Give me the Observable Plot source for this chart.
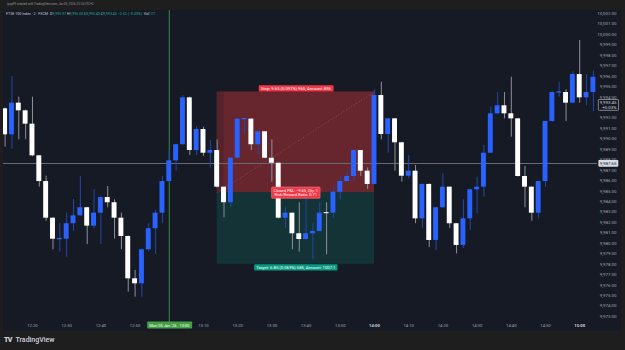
<!DOCTYPE html>
<html><head><meta charset="utf-8">
<script src="https://cdn.jsdelivr.net/npm/d3@7"></script>
<script src="https://cdn.jsdelivr.net/npm/@observablehq/plot@0.6"></script>
<style>
body{margin:0;background:#1e1e1e;}
#wrap{position:relative;width:625px;height:350px;background:#1e1e1e;overflow:hidden;font-family:Roboto,"Liberation Sans",sans-serif;}
#top{position:absolute;left:7px;top:1.8px;font-size:3px;color:#9598a1;white-space:nowrap;}
#chart{position:absolute;left:3px;top:10px;}
#legend{position:absolute;left:6px;top:11.6px;font-size:3.6px;color:#c9ccd4;white-space:nowrap;}
#legend .v{color:#22ab94}
#footer{position:absolute;left:4px;top:335.5px;font-size:7px;color:#d1d4dc;font-weight:500;white-space:nowrap;}
#footer b{font-weight:900;letter-spacing:-0.6px;margin-right:2px;}
</style></head>
<body>
<div id="wrap">
  <div id="top">ipop99 created with TradingView.com, Jan 05, 2026 23:14 UTC+2</div>
  <div id="chart"></div>
  <div id="legend">FTSE 100 Index · 2 · FXCM &nbsp;O<span class="v">9,995.97</span> H<span class="v">9,996.00</span> L<span class="v">9,993.40</span> C<span class="v">9,993.45</span> <span class="v">−2.52 (−0.03%)</span> &nbsp;Vol<span class="v">127</span></div>
  <div id="footer"><b>TV</b> TradingView</div>
</div>
<script>
// ---- data (2-minute candles, FTSE 100 Index) ----
const startTime = "12:12";
const intervalMinutes = 2;
const opens = [9992.88,9990.39,9993.42,9992.69,9991.41,9988.38,9985.92,9982.41,9980.40,9980.40,
9981.88,9982.64,9983.41,9981.65,9982.89,9984.39,9983.89,9982.41,9980.66,9976.61,
9976.13,9979.39,9981.40,9982.89,9985.92,9987.90,9989.44,9993.93,9988.89,9990.90,
9988.63,9988.89,9985.38,9983.89,9988.15,9991.89,9991.89,9989.44,9990.68,9988.15,
9987.67,9982.41,9982.89,9980.92,9980.37,9980.92,9981.14,9982.89,9982.89,9984.90,
9985.92,9986.40,9988.89,9986.91,9985.64,9994.15,9990.42,9991.92,9989.63,9986.43,
9986.91,9982.35,9985.64,9980.28,9983.41,9985.38,9981.88,9979.80,9982.35,9985.13,
9985.38,9988.63,9992.40,9993.17,9992.40,9991.92,9986.40,9985.38,9982.89,9985.92,
9991.67,9994.44,9994.44,9993.42,9996.16,9993.93,9994.44,9995.97];
const highs = [9992.95,9995.97,9993.99,9992.75,9993.99,9988.40,9986.43,9982.45,9981.90,9982.89,
9984.20,9986.40,9983.45,9985.13,9984.42,9985.44,9984.17,9982.89,9980.70,9977.41,
9979.45,9981.88,9983.15,9986.40,9988.89,9989.50,9994.15,9994.00,9991.19,9991.12,
9989.85,9989.91,9985.40,9988.20,9991.98,9991.92,9991.92,9990.70,9990.70,9989.91,
9987.70,9983.41,9982.90,9983.89,9984.39,9981.88,9983.89,9983.89,9985.38,9986.40,
9986.91,9988.90,9988.90,9987.23,9994.70,9995.43,9991.95,9991.95,9989.65,9988.41,
9987.45,9985.70,9985.70,9983.45,9986.66,9985.40,9981.90,9984.17,9985.15,9986.34,
9989.37,9993.03,9994.44,9994.44,9995.90,9991.95,9987.36,9985.40,9985.95,9991.70,
9994.50,9995.43,9994.70,9996.42,9999.42,9996.16,9996.50,9996.00];
const lows = [9989.21,9988.99,9989.91,9989.93,9988.30,9985.38,9982.12,9979.39,9979.16,9978.68,
9981.17,9982.60,9979.89,9981.40,9979.89,9983.41,9980.40,9979.39,9975.33,9974.85,
9974.85,9979.20,9978.94,9981.88,9985.80,9986.91,9989.40,9988.41,9988.41,9988.32,
9987.23,9985.30,9982.45,9983.41,9988.10,9990.39,9988.89,9988.41,9988.10,9985.86,
9982.35,9981.40,9979.39,9979.16,9980.30,9978.43,9981.10,9978.91,9982.41,9984.17,
9985.86,9985.92,9986.40,9985.16,9985.60,9989.91,9988.63,9986.91,9985.86,9986.18,
9981.88,9981.40,9979.61,9979.32,9983.35,9981.43,9979.00,9979.50,9981.23,9982.83,
9984.42,9988.60,9992.35,9991.92,9990.16,9986.35,9983.41,9982.12,9982.35,9985.38,
9991.60,9993.99,9991.67,9993.40,9993.42,9993.17,9992.60,9993.40];
const closes = [9990.39,9993.42,9992.69,9991.41,9988.38,9985.92,9982.41,9980.40,9980.42,9981.88,
9982.64,9983.41,9981.65,9982.89,9984.39,9983.89,9982.41,9980.66,9976.61,9976.13,
9979.39,9981.40,9982.89,9985.92,9987.90,9989.44,9993.93,9988.89,9990.90,9988.63,
9988.89,9985.38,9983.89,9988.15,9991.89,9991.90,9989.44,9990.68,9988.15,9987.67,
9982.41,9982.89,9980.92,9980.37,9980.92,9981.14,9982.89,9982.89,9984.90,9985.92,
9986.40,9988.89,9986.91,9985.64,9994.15,9990.42,9991.92,9989.63,9986.43,9986.91,
9982.35,9985.64,9980.28,9983.41,9985.38,9981.88,9979.80,9982.35,9985.13,9985.38,
9988.63,9992.40,9993.17,9992.40,9991.92,9986.40,9985.38,9982.89,9985.92,9991.67,
9994.44,9994.46,9993.42,9996.16,9993.93,9994.44,9995.90,9993.45];

// price labels that are visible (9,993.00 sits under the last-price tag)
const priceTicks = d3.range(9973, 10003).filter(v => v !== 9993);
// 13:00 sits under the crosshair date tag
const timeTickLabels = ["12:20","12:30","12:40","12:50","13:10","13:20","13:30","13:40","13:50","14:00","14:10","14:20","14:30","14:40","14:50","15:00"];
const boldTimeLabels = ["14:00","15:00"];

// short position tool
const entryTime = "13:14", exitTime = "14:00";
const entryPrice = 9984.85, stopPrice = 9994.50, targetPrice = 9978.00;
const stopText = "Stop: 9.65 (0.097%) 965, Amount: 896";
const targetText = "Target: 6.85 (0.069%) 685, Amount: 1007.1";
const pnlText = "Closed P&L: −9.65, Qty: 1\nRisk/Reward Ratio: 0.71";

// crosshair / last price
const crosshairTime = "13:00", crosshairTimeText = "Mon 05 Jan '26   13:00";
const crosshairPrice = 9987.65;
const lastPrice = 9993.45, lastPriceChange = "+0.03%";

// ---- build ----
const toMin = s => +s.slice(0, 2) * 60 + +s.slice(3);
const t0 = toMin(startTime);
const candles = opens.map((o, i) => ({
  t: t0 + i * intervalMinutes, o, h: highs[i], l: lows[i], c: closes[i], up: closes[i] > o
}));
const fmt = d3.format(",.2f");
const BLUE = "#2962ff", BLUE_WICK = "#2347a8", WHITE = "#ffffff", GRAY_WICK = "#8e919a";
const half = 0.72, minHalf = 0.05;
const ex1 = toMin(entryTime), ex2 = toMin(exitTime), exm = (ex1 + ex2) / 2;
const zones = [
  {x1: ex1, x2: ex2, y1: entryPrice, y2: stopPrice, fill: "#ff3b3b", op: 0.35},
  {x1: ex1, x2: ex2, y1: targetPrice, y2: entryPrice, fill: "#089981", op: 0.2}
];
const axisColor = "#a3a6af";

const plot = Plot.plot({
  width: 618, height: 321,
  marginLeft: 0, marginRight: 24, marginTop: 0, marginBottom: 13,
  x: {domain: [731.53, 905.2], axis: null},
  y: {domain: [9972.81, 10002.29], axis: null},
  color: {type: "identity"},
  style: {background: "#161a25", fontFamily: "Roboto, 'Liberation Sans', sans-serif", overflow: "visible"},
  marks: [
    Plot.rect(zones, {x1: "x1", x2: "x2", y1: "y1", y2: "y2", fill: "fill", fillOpacity: d => d.op}),
    Plot.rect([zones[0]], {x1: "x1", x2: d => d.x1 + intervalMinutes, y1: "y1", y2: "y2", fill: "#161a25", fillOpacity: 0.25}),
    Plot.link([zones[0]], {x1: "x1", y1: "y1", x2: "x2", y2: "y2", stroke: "#c98a90", strokeOpacity: 0.4, strokeDasharray: "1,2"}),
    Plot.ruleY([crosshairPrice], {stroke: "#6a6d78", strokeWidth: 1}),
    Plot.ruleX([toMin(crosshairTime)], {stroke: "#3b8a41", strokeWidth: 1, insetBottom: -5}),
    Plot.ruleX(candles, {x: "t", y1: "l", y2: "h", stroke: d => d.up ? BLUE_WICK : GRAY_WICK, strokeWidth: 1, clip: true}),
    Plot.rect(candles, {
      x1: d => d.t - half, x2: d => d.t + half,
      y1: d => Math.min(d.o, d.c) - (Math.abs(d.o - d.c) < 2 * minHalf ? minHalf : 0),
      y2: d => Math.max(d.o, d.c) + (Math.abs(d.o - d.c) < 2 * minHalf ? minHalf : 0),
      fill: d => d.up ? BLUE : WHITE, clip: true
    }),
    // price axis
    Plot.text(priceTicks, {y: d => d, text: d => fmt(d), frameAnchor: "right", dx: 19, textAnchor: "end", fill: axisColor, fontSize: 4.4}),
    // time axis
    Plot.text(timeTickLabels.filter(s => !boldTimeLabels.includes(s)), {x: toMin, text: d => d, frameAnchor: "bottom", dy: 8, fill: axisColor, fontSize: 4.2}),
    Plot.text(boldTimeLabels, {x: toMin, text: d => d, frameAnchor: "bottom", dy: 8, fill: "#d1d4dc", fontSize: 4.2, fontWeight: "bold"}),
    // position labels
    Plot.text([stopText], {x: exm, y: stopPrice, text: d => d, dy: -3.3, fill: "white", fontSize: 4.2}),
    Plot.text([targetText], {x: exm, y: targetPrice, text: d => d, dy: 3.3, fill: "white", fontSize: 4.2}),
    Plot.text([pnlText], {x: exm, y: entryPrice, text: d => d, fill: "white", fontSize: 4, lineHeight: 1.15}),
    // crosshair labels
    Plot.text([crosshairPrice], {y: d => d, text: d => fmt(d), frameAnchor: "right", dx: 19, textAnchor: "end", fill: "#131722", fontSize: 4.4}),
    Plot.text([lastPrice], {y: d => d, text: d => fmt(d) + "\n" + lastPriceChange, frameAnchor: "right", dx: 19, textAnchor: "end", lineAnchor: "top", dy: -2.3, lineHeight: 1.1, fill: "#d1d4dc", fontSize: 4.4}),
    Plot.text([crosshairTime], {x: toMin, text: () => crosshairTimeText, frameAnchor: "bottom", dy: 8, fill: "white", fontSize: 4})
  ]
});
document.getElementById("chart").appendChild(plot);

// background boxes behind tag-like texts, sized from the rendered text
const SVGNS = "http://www.w3.org/2000/svg";
function addBg(startsWith, fill, padX, padY, stroke) {
  const texts = Array.from(plot.querySelectorAll("text")).filter(t => t.textContent.startsWith(startsWith));
  texts.forEach(t => {
    const b = t.getBBox();
    const r = document.createElementNS(SVGNS, "rect");
    r.setAttribute("x", b.x - padX); r.setAttribute("y", b.y - padY);
    r.setAttribute("width", b.width + 2 * padX); r.setAttribute("height", b.height + 2 * padY);
    r.setAttribute("rx", 0.8);
    r.setAttribute("fill", fill);
    if (stroke) { r.setAttribute("stroke", stroke); r.setAttribute("stroke-width", 0.6); }
    const tr = t.getAttribute("transform"); if (tr) r.setAttribute("transform", tr);
    t.parentNode.insertBefore(r, t);
  });
}
addBg(stopText, "#f23645", 2, 0.6);
addBg(targetText, "#089981", 2, 0.6);
addBg("Closed P&L", "#f23645", 2, 0.8, "#f77c80");
addBg(crosshairTimeText, "#43a047", 2, 1);
addBg(fmt(crosshairPrice), "#d8dbe3", 1.3, 0.8);
addBg(fmt(lastPrice), "#161a25", 1.3, 0.5, "#c8cad0");
</script>
</body></html>
